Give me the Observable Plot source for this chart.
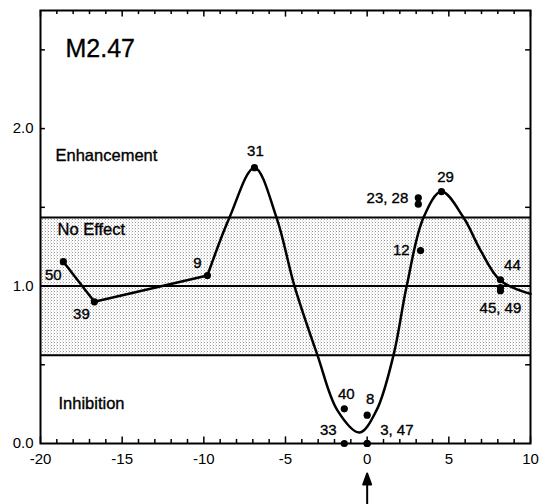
<!DOCTYPE html>
<html>
<head>
<meta charset="utf-8">
<script src="https://cdn.jsdelivr.net/npm/d3@7"></script>
<script src="https://cdn.jsdelivr.net/npm/@observablehq/plot@0.6"></script>
<style>
  html, body { margin: 0; padding: 0; background: #fff; }
  #chart svg { display: block; }
</style>
</head>
<body>
<div id="chart"></div>
<script>
// ---- data ----
const panelTitle = "M2.47";
const regionNames = ["Enhancement", "No Effect", "Inhibition"];
const bandLow = 0.56;      // lower edge of "No Effect" band
const bandHigh = 1.435;    // upper edge of "No Effect" band
const baseline = 1.0;

// measured points: id, x, y
const pointIds = ["50", "39", "9", "31", "40", "8", "33", "3", "47", "12", "23", "28", "29", "44", "45", "49"];
const pointX   = [-18.6, -16.7, -9.78, -6.9, -1.4, 0, -1.4, 0, 0, 3.27, 3.13, 3.13, 4.55, 8.16, 8.16, 8.16];
const pointY   = [1.155, 0.90, 1.067, 1.752, 0.22, 0.18, 0, 0, 0, 1.225, 1.56, 1.52, 1.60, 1.04, 0.99, 0.97];

// straight segment joining 50 - 39 - 9
const segmentIds = ["50", "39", "9"];

// fitted smooth curve
const curveX = [-9.78, -8.43, -6.90, -5.55, -4.45, -3.04, -1.82, -0.47, 0.57, 1.61, 2.42, 3.45, 4.55, 5.9, 6.95, 8.16, 10];
const curveY = [1.067, 1.435, 1.752, 1.435, 1.0, 0.56, 0.21, 0.07, 0.21, 0.56, 1.0, 1.435, 1.60, 1.435, 1.225, 1.035, 0.95];

// point labels, attached to a point id
const labelTexts  = ["50", "39", "9", "31", "40", "8", "33", "3, 47", "12", "23, 28", "29", "44", "45, 49"];
const labelAnchor = ["50", "39", "9", "31", "40", "8", "33", "3", "12", "23", "29", "44", "45"];

// ticks
const xTickLabels = [-20, -15, -10, -5, 0, 5, 10];
const xMinorTicks = [-19, -18, -17, -16, -14, -13, -12, -11, -9, -8, -7, -6, -4, -3, -2, -1, 1, 2, 3, 4, 6, 7, 8, 9];
const yTickLabels = [0, 1, 2];
const yMinorTicks = [0.5, 1, 1.5, 2, 2.5];
const arrowAt = [0];

// ---- build tables ----
const points = pointIds.map((id, i) => ({id, x: pointX[i], y: pointY[i]}));
const byId = new Map(points.map(p => [p.id, p]));
const segment = segmentIds.map(id => byId.get(id));
const curve = curveX.map((x, i) => ({x, y: curveY[i]}));

// label placement (style: offsets in px)
const place = {
  "50":     {dx: -10, dy: 14, anchor: "middle"},
  "39":     {dx: -13, dy: 12, anchor: "middle"},
  "9":      {dx: -10, dy: -12, anchor: "middle"},
  "31":     {dx: 1, dy: -16, anchor: "middle"},
  "40":     {dx: 2, dy: -15, anchor: "middle"},
  "8":      {dx: 3, dy: -16, anchor: "middle"},
  "33":     {dx: -16, dy: -13, anchor: "middle"},
  "3, 47":  {dx: 13, dy: -13, anchor: "start"},
  "12":     {dx: -11, dy: 0, anchor: "end"},
  "23, 28": {dx: -10, dy: 0, anchor: "end"},
  "29":     {dx: 4, dy: -14, anchor: "middle"},
  "44":     {dx: 12, dy: -15, anchor: "middle"},
  "45, 49": {dx: 0, dy: 21, anchor: "middle"}
};
const labels = labelTexts.map((t, i) => {
  const p = byId.get(labelAnchor[i]);
  return {text: t, x: p.x, y: p.y, ...place[t]};
});

const xDomain = [-20, 10];
const yDomain = [0, 2.75];
const font = "'Liberation Sans', Arial, Helvetica, sans-serif";
const ink = {fill: "black", stroke: "black", strokeWidth: 0.35};

const arrowShape = {
  draw(ctx, l) {
    ctx.moveTo(0, 0);
    ctx.lineTo(0, -l + 10);
    ctx.moveTo(0, -l);
    ctx.lineTo(-4, -l + 11);
    ctx.lineTo(4, -l + 11);
    ctx.closePath();
  }
};

const textMarks = labels.map(d =>
  Plot.text([d], {x: "x", y: "y", text: "text", dx: d.dx, dy: d.dy, textAnchor: d.anchor,
    fontSize: 15, ...ink})
);

const tickStyle = {stroke: "black", strokeWidth: 1.5};

const chart = Plot.plot({
  width: 547,
  height: 504,
  marginTop: 10,
  marginLeft: 40,
  marginRight: 17,
  marginBottom: 61,
  style: {fontFamily: font, background: "white", color: "black", overflow: "visible"},
  x: {domain: xDomain},
  y: {domain: yDomain},
  marks: [
    // No-effect band
    Plot.rect([{x1: xDomain[0], x2: xDomain[1], y1: bandLow, y2: bandHigh}],
      {x1: "x1", x2: "x2", y1: "y1", y2: "y2", fill: "url(#stipple)"}),
    Plot.ruleY([bandLow, baseline, bandHigh], {stroke: "black", strokeWidth: 2}),
    Plot.frame({stroke: "black", strokeWidth: 2}),
    // inward ticks
    Plot.ruleX(xMinorTicks, {x: d => d, y1: yDomain[0], y2: yDomain[0] + 0.026, ...tickStyle}),
    Plot.ruleX(xTickLabels, {x: d => d, y1: yDomain[0], y2: yDomain[0] + 0.042, ...tickStyle}),
    Plot.ruleX(xMinorTicks, {x: d => d, y1: yDomain[1], y2: yDomain[1] - 0.026, ...tickStyle}),
    Plot.ruleX(xTickLabels, {x: d => d, y1: yDomain[1], y2: yDomain[1] - 0.042, ...tickStyle}),
    Plot.ruleY(yMinorTicks, {y: d => d, x1: xDomain[0], x2: xDomain[0] + 0.3, ...tickStyle}),
    Plot.ruleY(yMinorTicks, {y: d => d, x1: xDomain[1], x2: xDomain[1] - 0.3, ...tickStyle}),
    // axes labels
    Plot.axisX({ticks: xTickLabels, tickSize: 0, tickPadding: 10, tickFormat: d => String(d),
      fontSize: 15, label: null, ...ink}),
    Plot.axisY({ticks: yTickLabels, tickSize: 0, tickPadding: 7, tickFormat: d3.format(".1f"),
      fontSize: 15, label: null, ...ink}),
    // data
    Plot.line(segment, {x: "x", y: "y", stroke: "black", strokeWidth: 2.5}),
    Plot.line(curve, {x: "x", y: "y", curve: "catmull-rom", stroke: "black", strokeWidth: 2.5}),
    Plot.dot(points, {x: "x", y: "y", r: 3.6, fill: "black", stroke: "none"}),
    ...textMarks,
    // region titles
    Plot.text([panelTitle], {text: d => d, frameAnchor: "top-left", lineAnchor: "middle", dx: 25, dy: 38, fontSize: 25, textAnchor: "start", ...ink}),
    Plot.text([regionNames[0]], {text: d => d, frameAnchor: "top-left", lineAnchor: "middle", dx: 15, dy: 145, fontSize: 16.5, textAnchor: "start", ...ink}),
    Plot.text([regionNames[1]], {text: d => d, frameAnchor: "top-left", lineAnchor: "middle", dx: 17, dy: 219, fontSize: 16.5, textAnchor: "start", ...ink}),
    Plot.text([regionNames[2]], {text: d => d, frameAnchor: "top-left", lineAnchor: "middle", dx: 18, dy: 393, fontSize: 16.5, textAnchor: "start", ...ink}),
    // arrow under x = 0
    Plot.vector(arrowAt, {x: d => d, frameAnchor: "bottom", dy: 61, length: 31, rotate: 0, anchor: "start",
      shape: arrowShape, stroke: "black", fill: "black", strokeWidth: 2})
  ]
});

chart.insertAdjacentHTML("afterbegin",
  `<defs><pattern id="stipple" width="3" height="3" patternUnits="userSpaceOnUse">
     <rect width="3" height="3" fill="#ffffff"></rect>
     <rect x="0" y="0" width="1" height="1" fill="#999999"></rect>
     <rect x="2" y="1.5" width="1" height="1" fill="#cccccc"></rect>
   </pattern></defs>`);

document.getElementById("chart").appendChild(chart);
</script>
</body>
</html>
